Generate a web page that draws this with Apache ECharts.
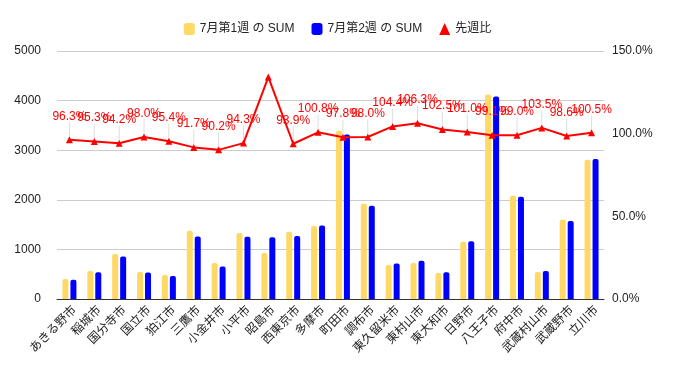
<!DOCTYPE html>
<html><head><meta charset="utf-8">
<script src="https://cdn.jsdelivr.net/npm/echarts@6/dist/echarts.min.js"></script>
<style>html,body{margin:0;padding:0;background:#fff}#c{width:675px;height:371px}</style>
</head><body><div id="c"></div>
<script>
const categories = ['あきる野市','稲城市','国分寺市','国立市','狛江市','三鷹市','小金井市','小平市','昭島市','西東京市','多摩市','町田市','調布市','東久留米市','東村山市','東大和市','日野市','八王子市','府中市','武蔵村山市','武蔵野市','立川市'];
const week1 = [404, 566, 909, 545, 485, 1374, 727, 1333, 929, 1354, 1472, 3394, 1919, 687, 727, 525, 1152, 4121, 2081, 545, 1596, 2808];
const week2 = [389, 539, 856, 534, 463, 1260, 656, 1257, 1245, 1271, 1484, 3319, 1881, 716, 773, 537, 1164, 4084, 2060, 564, 1574, 2822];
const ratio = [96.3, 95.3, 94.2, 98.0, 95.4, 91.7, 90.2, 94.3, 134.2, 93.9, 100.8, 97.8, 98.0, 104.4, 106.3, 102.5, 101.0, 99.1, 99.0, 103.5, 98.6, 100.5];
const hiddenLabelIdx = [8];
const leftTicks = {min: 0, max: 5000, interval: 1000};
const rightTicks = {min: 0, max: 150, interval: 50};
const seriesNames = ['7月第1週 の SUM', '7月第2週 の SUM', '先週比'];

const FONT = "'Liberation Sans', Arial, 'Noto Sans CJK JP', sans-serif";
const chart = echarts.init(document.getElementById('c'));
chart.setOption({
  animation: false,
  textStyle: {fontFamily: FONT},
  legend: {
    top: 18, left: 'center', itemGap: 17, itemWidth: 11, itemHeight: 12,
    textStyle: {fontSize: 12, color: '#222', fontFamily: FONT},
    data: [
      {name: seriesNames[0], icon: 'roundRect'},
      {name: seriesNames[1], icon: 'roundRect'},
      {name: seriesNames[2], icon: 'triangle'}
    ]
  },
  grid: {left: 57, right: 71, top: 51, bottom: 72, containLabel: false},
  xAxis: {
    type: 'category', data: categories,
    axisLine: {lineStyle: {color: '#333', width: 1}},
    axisTick: {show: false},
    axisLabel: {rotate: 45, fontSize: 12, color: '#222', interval: 0, margin: 4, verticalAlign: 'top',
                fontFamily: "'Noto Sans CJK JP', sans-serif"}
  },
  yAxis: [
    {type: 'value', min: leftTicks.min, max: leftTicks.max, interval: leftTicks.interval,
     axisLine: {show: false}, axisTick: {show: false},
     splitLine: {lineStyle: {color: '#cccccc'}},
     axisLabel: {fontSize: 12, color: '#222', margin: 16, formatter: v => String(v)}},
    {type: 'value', min: rightTicks.min, max: rightTicks.max, interval: rightTicks.interval,
     axisLine: {show: false}, axisTick: {show: false}, splitLine: {show: false},
     axisLabel: {fontSize: 12, color: '#222', margin: 8, formatter: v => v.toFixed(1) + '%'}}
  ],
  series: [
    {name: seriesNames[0], type: 'bar', data: week1, barWidth: 6, barGap: '33%',
     itemStyle: {color: '#ffd966', borderRadius: [2, 2, 0, 0]}},
    {name: seriesNames[1], type: 'bar', data: week2, barWidth: 6,
     itemStyle: {color: '#0000ff', borderRadius: [2, 2, 0, 0]}},
    {name: seriesNames[2], type: 'line', yAxisIndex: 1, z: 5,
     data: ratio.map((v, i) => hiddenLabelIdx.includes(i) ? {value: v, label: {show: false}, labelLine: {show: false}} : v),
     symbol: 'triangle', symbolSize: 7,
     lineStyle: {color: '#ff0000', width: 2}, itemStyle: {color: '#ff0000'},
     label: {show: true, position: 'top', distance: 4, color: '#ff0000', fontSize: 12, fontFamily: FONT,
             formatter: p => p.value.toFixed(1) + '%'},
     labelLayout: {dy: -10},
     labelLine: {show: true, lineStyle: {color: '#dddddd', width: 1}}
    }
  ]
});
</script></body></html>
